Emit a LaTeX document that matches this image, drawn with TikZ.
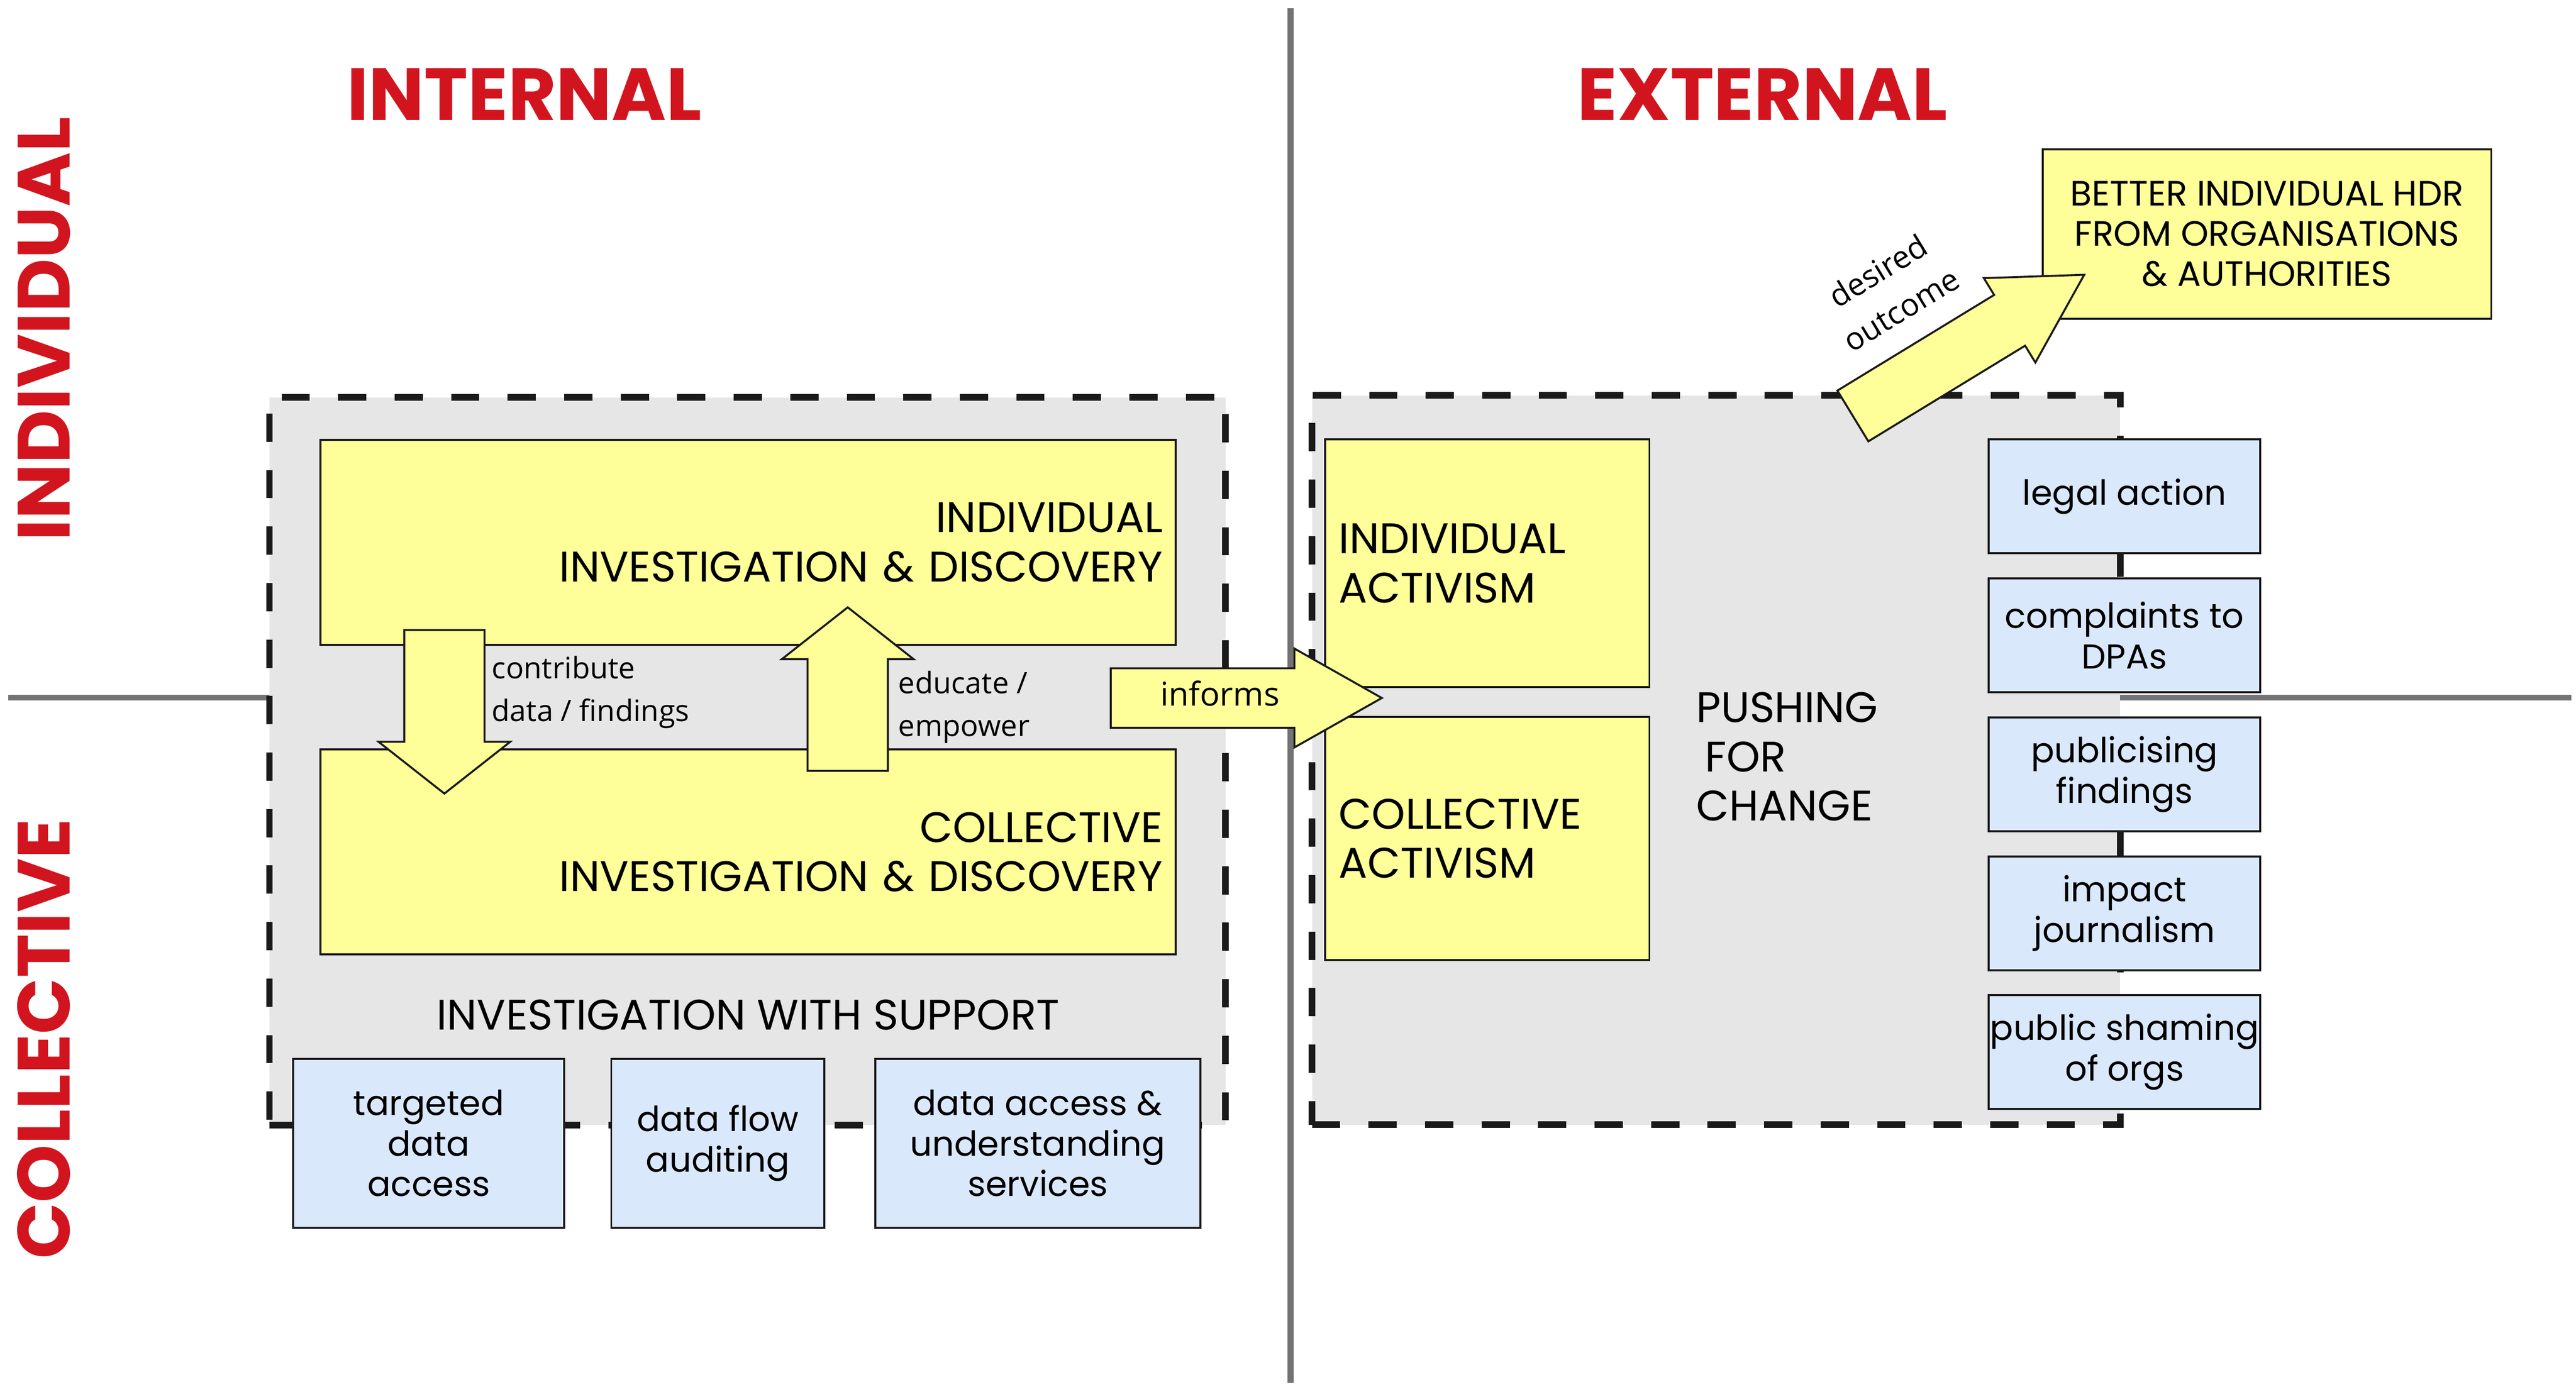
\documentclass[tikz,border=0pt]{standalone}
\usepackage{fontspec}
\usetikzlibrary{shapes.arrows, positioning}
\newfontfamily\capsfont{Poppins}
\newfontfamily\boxfont{Poppins}
\newfontfamily\notefont{Open Sans}
\definecolor{stickyyellow}{HTML}{FFFF99}
\definecolor{supportblue}{HTML}{DAE8FC}
\definecolor{regiongray}{HTML}{E6E6E6}
\definecolor{axisgray}{HTML}{737373}
\definecolor{titlered}{HTML}{D2141E}
\definecolor{edgeblack}{HTML}{1A1A1A}
\tikzstyle{axis} = [draw=axisgray, line width=1.8pt]
\tikzstyle{title} = [text=titlered, inner sep=0pt, font=\capsfont\bfseries\fontsize{22.5}{27}\selectfont]
\tikzstyle{region} = [rectangle, draw=edgeblack, fill=regiongray, line width=2pt, dash pattern=on 8.6pt off 8.6pt, inner sep=0pt]
\tikzstyle{investbox} = [rectangle, draw=edgeblack, fill=stickyyellow, line width=0.6pt, minimum width=260.25pt, minimum height=62.4pt, text width=252.5pt, inner sep=3.85pt, align=right, font=\capsfont\fontsize{13}{15}\selectfont]
\tikzstyle{actbox} = [rectangle, draw=edgeblack, fill=stickyyellow, line width=0.6pt, minimum width=98.75pt, text width=90.25pt, inner sep=4.25pt, align=left, font=\capsfont\fontsize{13}{15}\selectfont]
\tikzstyle{goalbox} = [rectangle, draw=edgeblack, fill=stickyyellow, line width=0.6pt, minimum width=136.5pt, minimum height=51.5pt, align=center, font=\capsfont\fontsize{10.7}{12.25}\selectfont]
\tikzstyle{capslabel} = [inner sep=0pt, font=\capsfont\fontsize{13}{15}\selectfont]
\tikzstyle{supportbox} = [rectangle, draw=edgeblack, fill=supportblue, line width=0.6pt, inner sep=0pt, align=center, minimum height=51.4pt, font=\boxfont\fontsize{10.5}{12.35}\selectfont]
\tikzstyle{changebox} = [supportbox, minimum width=82.55pt, minimum height=34.65pt]
\tikzstyle{blockarrow} = [single arrow, draw=edgeblack, fill=stickyyellow, line width=0.6pt, inner xsep=0pt, inner ysep=11.925pt, minimum height=49.8pt, minimum width=39.5pt, single arrow head extend=7.83pt, single arrow tip angle=103.6]
\tikzstyle{bigarrow} = [single arrow, draw=edgeblack, fill=stickyyellow, line width=0.6pt, inner sep=0pt, text height=11.1pt, text depth=6.4pt, minimum height=82.5pt, minimum width=29.5pt, single arrow head extend=6pt, single arrow tip angle=59, font=\notefont\fontsize{10}{12}\selectfont]
\tikzstyle{note} = [inner sep=0pt, align=left, font=\notefont\fontsize{9}{13}\selectfont]

\begin{document}
\begin{tikzpicture}[x=0.5pt, y=-0.5pt]
\useasboundingbox (0,0) rectangle (1568,844.4);

% Axes
\draw [axis] (785.6,5) -- (785.6,842);
\draw [axis] (5,424.8) -- (1565,424.8);

% Quadrant titles
\node (internal) [title, anchor=base] at (319.1,73.3) {INTERNAL};
\node (external) [title, anchor=base] at (1072.8,73.3) {EXTERNAL};
\node (individual) [title, rotate=90, anchor=base] at (42.6,200.4) {INDIVIDUAL};
\node (collective) [title, rotate=90, anchor=base] at (42.6,632.6) {COLLECTIVE};

% Regions
\node (invregion) [region, minimum width=291pt, minimum height=221.5pt] at (455,463.5) {};
\node (pushregion) [region, minimum width=246pt, minimum height=222pt] at (1044.6,462.8) {};

% Investigation
\node (indinv) [investbox] at (455.25,330.2) {INDIVIDUAL\\INVESTIGATION \& DISCOVERY};
\node (colinv) [investbox, below=31.3pt of indinv] {COLLECTIVE\\INVESTIGATION \& DISCOVERY};
\node (support) [capslabel, anchor=base] at (455.3,626.9) {INVESTIGATION WITH SUPPORT};

% Pushing for change
\node (indact) [actbox, minimum height=75.4pt] at (905.25,343) {INDIVIDUAL\\ACTIVISM};
\node (colact) [actbox, minimum height=74pt, below=8.45pt of indact] {COLLECTIVE\\ACTIVISM};
\node (push) [capslabel, align=left, anchor=west] at (1032,460.7) {PUSHING\\\hspace*{2.8pt}FOR\\CHANGE};
\node (goal) [goalbox] at (1379.9,142.5) {BETTER INDIVIDUAL HDR\\FROM ORGANISATIONS\\\& AUTHORITIES};

% Arrows
\node (contribute) [blockarrow, rotate=-90, anchor=tail] at (270.5,383) {};
\node (educate) [blockarrow, rotate=90, anchor=tail] at (516,470) {};
\node (informs) [bigarrow, anchor=tail] at (675.5,425) {informs};
\node (desired) [bigarrow, rotate=31.4, anchor=tail] at (1127.3,253.6) {};
\node (contribnote) [note, anchor=west] at (299,421.4) {contribute\\data / findings};
\node (educnote) [note, anchor=west] at (546.5,430.5) {educate /\\empower};
\node (desirednote) [note, align=center, rotate=31.4, font=\notefont\fontsize{9.5}{13.7}\selectfont] at (1150,176.6) {desired\\outcome};

% Support services
\node (target) [supportbox, minimum width=82.55pt] at (260.95,696.1) {targeted\\data\\access};
\node (flow) [supportbox, minimum width=64.85pt, right=13.7pt of target] {data flow\\auditing};
\node (access) [supportbox, minimum width=98.9pt, right=14.9pt of flow] {data access \&\\understanding\\services};

% Ways of pushing
\node (legal) [changebox] at (1293.15,302.25) {legal action};
\node (dpa) [changebox, below=7.05pt of legal] {complaints to\\DPAs};
\node (publicise) [changebox, below=7.05pt of dpa] {publicising\\findings};
\node (journalism) [changebox, below=7.05pt of publicise] {impact\\journalism};
\node (shaming) [changebox, below=7.05pt of journalism] {public shaming\\of orgs};
\end{tikzpicture}
\end{document}
